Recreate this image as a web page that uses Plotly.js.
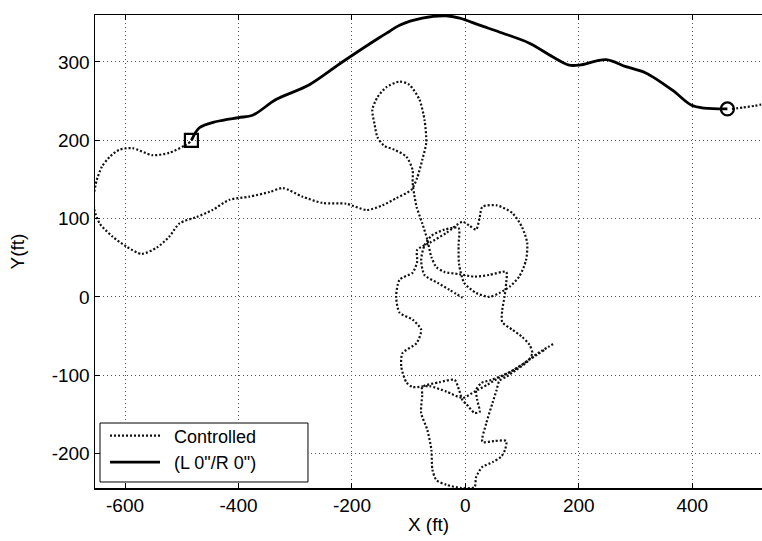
<!DOCTYPE html>
<html>
<head>
<meta charset="utf-8">
<script src="https://cdn.plot.ly/plotly-3.0.1.min.js"></script>
<style>html,body{margin:0;padding:0;background:#fff;}#chart{width:762px;height:541px;}</style>
</head>
<body>
<div id="chart"></div>
<script>
// Solid path (L 0"/R 0")
var solidX = [-483,-469,-439,-400,-375,-334,-275,-217,-152,-134,-116,-76,-34,-10,25,65,113,153,183,201,248,283,318,365,398,421,462];
var solidY = [200,216,224,229,232,252,271,300,331,339,347,356,359,356,347,337,324,307,296,296,303,294,286,264,245,241,240];

// Controlled path (segments separated by null)
var ctrlX = [
 -485,-493,-522,-552,-587,-610,-627,-641,-650,-655,-654,-645,-622,-597,-571,-544,-522,-504,-474,-446,-416,-381,-345,-322,-287,-252,-210,-174,-146,-122,-95,
 -85,-76,-69,-72,-81,-99,-116,-139,-155,-164,-160,-155,-143,-125,-104,-93,-93,-90,-86,-76,-67,-60,-51,-37,-11,16,42,72,
 72,69,65,65,83,100,113,118,109,90,72,60,55,48,37,30,51,72,70,63,48,30,19,16,-7,-33,-51,-58,-60,-67,-78,-76,-76,
 -46,-19,-11,-5,2,16,25,21,19,28,46,63,81,99,116,134,146,157,
 null,
 139,113,86,60,39,16,-5,-33,-63,-93,-104,-113,-111,-86,-78,-93,-116,-122,-116,-93,-85,-85,-63,-33,-5,7,19,25,30,55,83,100,109,107,95,78,60,42,19,-2,-11,-12,-12,-37,-60,-72,-78,-72,-49,-28,-5,
 null,
 470,490,510,530
];
var ctrlY = [
 198,194,184,181,190,188,179,166,149,130,111,94,77,64,55,63,77,94,102,111,124,128,134,139,128,120,119,111,117,126,137,
 152,175,197,226,252,271,275,268,255,239,220,204,193,188,179,162,146,130,115,94,73,51,38,32,29,26,28,32,
 18,0,-17,-32,-42,-51,-61,-72,-83,-93,-102,-107,-119,-135,-161,-185,-184,-184,-195,-204,-211,-217,-230,-243,-244,-240,-234,-221,-195,-170,-148,-125,-115,
 -109,-106,-119,-132,-137,-148,-147,-132,-119,-110,-106,-101,-95,-87,-78,-69,-64,-59,
 null,
 -68,-80,-93,-103,-112,-121,-129,-121,-114,-115,-109,-89,-72,-59,-42,-29,-20,0,22,31,45,60,69,82,96,91,86,101,115,117,107,89,69,47,26,13,5,0,5,18,41,66,88,86,78,66,47,28,18,9,-1,
 null,
 240,242,244,247
];

// Start / end markers of solid path
var markX = [-483, 462];
var markY = [200, 240];
var markSymbols = ['square-open', 'circle-open'];

var tickFont = {family: 'Liberation Sans, Arial, sans-serif', size: 19, color: '#000'};

var traces = [
  {x: ctrlX, y: ctrlY, type: 'scatter', mode: 'lines', name: '\u2002Controlled',
   connectgaps: false, line: {color: '#111', width: 2.2, dash: '2px,2px', shape: 'spline', smoothing: 0.7}},
  {x: solidX, y: solidY, type: 'scatter', mode: 'lines', name: '\u2002(L 0"/R 0")',
   line: {color: '#000', width: 2.8, shape: 'spline', smoothing: 0.9}},
  {x: markX, y: markY, type: 'scatter', mode: 'markers', showlegend: false,
   marker: {symbol: markSymbols, size: 13, color: '#000', line: {color: '#000', width: 2.2}}}
];

var layout = {
  width: 762, height: 541,
  margin: {l: 95, r: 0, t: 15, b: 53},
  paper_bgcolor: '#fff', plot_bgcolor: '#fff',
  showlegend: true,
  xaxis: {
    range: [-653, 523], tickvals: [-600,-400,-200,0,200,400],
    ticktext: ['-600','-400','-200','0','200','400'],
    showgrid: true, gridcolor: '#555', gridwidth: 1, griddash: '1px,3px',
    zeroline: false, showline: true, linecolor: '#000', linewidth: 1.5, mirror: 'ticks',
    ticks: 'inside', ticklen: 5, tickcolor: '#000', tickfont: tickFont,
    title: {text: 'X (ft)', font: tickFont, standoff: 2}
  },
  yaxis: {
    range: [-244, 360], tickvals: [-200,-100,0,100,200,300],
    ticktext: ['-200','-100','0','100','200','300'],
    showgrid: true, gridcolor: '#555', gridwidth: 1, griddash: '1px,3px',
    zeroline: false, showline: true, linecolor: '#000', linewidth: 1.5, mirror: false,
    ticks: 'inside', ticklen: 5, tickcolor: '#000', tickfont: tickFont,
    title: {text: 'Y(ft)', font: tickFont, standoff: 22}
  },
  shapes: [
    {type: 'rect', xref: 'paper', yref: 'paper', x0: 0.0075, x1: 0.3193, y0: 0.0127, y1: 0.1374,
     fillcolor: '#fff', line: {color: '#000', width: 1}, layer: 'above'}
  ],
  legend: {
    x: 0.0075, y: 0.016, xanchor: 'left', yanchor: 'bottom',
    bgcolor: 'rgba(0,0,0,0)', borderwidth: 0,
    font: {family: 'Liberation Sans, Arial, sans-serif', size: 18, color: '#000'},
    itemwidth: 50, indentation: 5, tracegroupgap: 0
  }
};

Plotly.newPlot('chart', traces, layout, {displayModeBar: false, staticPlot: true});
</script>
</body>
</html>
